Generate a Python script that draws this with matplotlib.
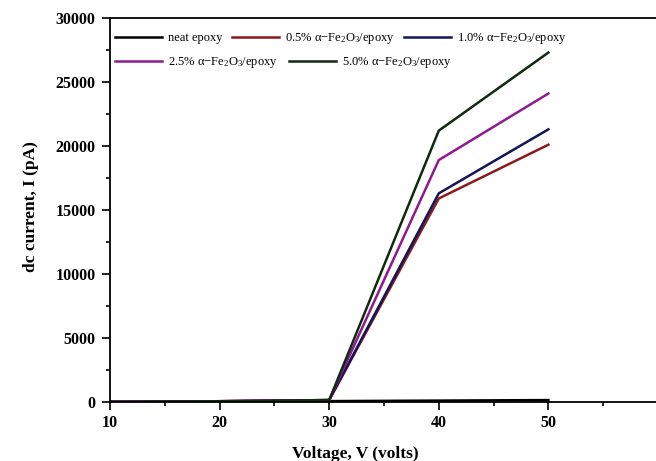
import matplotlib
matplotlib.use("Agg")
import matplotlib.pyplot as plt
from matplotlib.ticker import MultipleLocator

plt.rcParams['font.family'] = ['Liberation Serif', 'DejaVu Serif']
plt.rcParams['mathtext.fontset'] = 'custom'
plt.rcParams['mathtext.rm'] = 'Liberation Serif'
plt.rcParams['mathtext.it'] = 'Liberation Serif:italic'
plt.rcParams['mathtext.bf'] = 'Liberation Serif:bold'

voltage = [10, 20, 30, 40, 50]
neat_epoxy = [10, 40, 70, 110, 150]
fe_0_5 = [10, 60, 150, 15900, 20100]
fe_1_0 = [10, 60, 150, 16300, 21300]
fe_2_5 = [10, 60, 150, 18900, 24100]
fe_5_0 = [10, 60, 150, 21200, 27300]

series = [
    ("neat epoxy", neat_epoxy, "#000000"),
    ("0.5% α−Fe$_2$O$_3$/epoxy", fe_0_5, "#8b1a1a"),
    ("1.0% α−Fe$_2$O$_3$/epoxy", fe_1_0, "#14145a"),
    ("2.5% α−Fe$_2$O$_3$/epoxy", fe_2_5, "#8e1a8e"),
    ("5.0% α−Fe$_2$O$_3$/epoxy", fe_5_0, "#0f2a0f"),
]

fig = plt.figure(figsize=(6.56, 4.61), dpi=100)
ax = fig.add_axes([110 / 656, 1 - 402 / 461, 1 - 110 / 656 + 0.003, (402 - 18) / 461])

handles = []
for label, vals, color in series:
    h, = ax.plot(voltage, vals, color=color, lw=1.8, label=label)
    handles.append(h)

ax.set_xlim(10, 60)
ax.set_ylim(0, 30000)
ax.xaxis.set_minor_locator(MultipleLocator(5))
ax.yaxis.set_major_locator(MultipleLocator(5000))
ax.yaxis.set_minor_locator(MultipleLocator(2500))
ax.set_xticks([10, 20, 30, 40, 50])
ax.tick_params(which='both', direction='out', width=1.2)
ax.tick_params(which='major', length=6, labelsize=11.5)
ax.tick_params(which='minor', length=3)
ax.tick_params(axis='x', which='major', pad=3.5)
ax.tick_params(axis='y', which='major', pad=4.5)
for lab in ax.get_xticklabels() + ax.get_yticklabels():
    lab.set_fontweight('bold')
for sp in ax.spines.values():
    sp.set_linewidth(1.3)

ax.set_xlabel("Voltage, V (volts)", fontsize=12.5, fontweight='bold')
ax.xaxis.set_label_coords((355 - 110) / 546.9, -0.115)
ax.set_ylabel("dc current, I (pA)", fontsize=12.5, fontweight='bold')
ax.yaxis.set_label_coords(-0.13, 0.51)

# legend drawn as two independent rows, each packed left to right
common = dict(loc='upper left', frameon=False, fontsize=9, handlelength=3.75,
              handletextpad=0.45, borderaxespad=0.0, borderpad=0.0)
row1 = ax.legend(handles[:3], [s[0] for s in series[:3]], ncol=3,
                 columnspacing=0.8, bbox_to_anchor=(5 / 546.9, 1 - 13 / 384), **common)
ax.add_artist(row1)
ax.legend(handles[3:], [s[0] for s in series[3:]], ncol=2,
          columnspacing=0.95, bbox_to_anchor=(5 / 546.9, 1 - 37 / 384), **common)

fig.savefig("out.png", dpi=100)
